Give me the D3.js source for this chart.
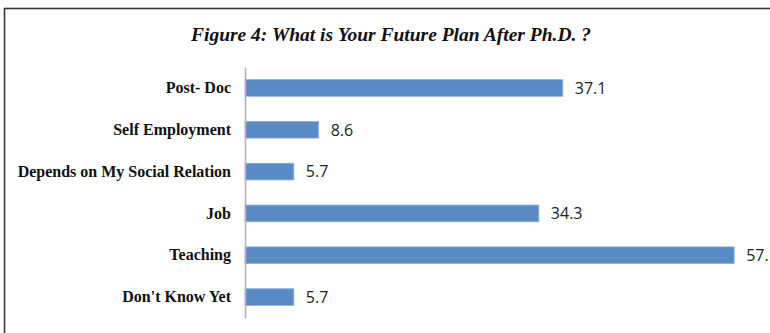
<!DOCTYPE html>
<html>
<head>
<meta charset="utf-8">
<script src="https://cdn.jsdelivr.net/npm/d3@7"></script>
<style>
  html, body { margin: 0; padding: 0; background: #fff; }
  svg { display: block; }
</style>
</head>
<body>
<div id="barchart"></div>
<script>
// chart data, top to bottom as shown
var categories = ["Post- Doc", "Self Employment", "Depends on My Social Relation", "Job", "Teaching", "Don't Know Yet"];
var values = [37.1, 8.6, 5.7, 34.3, 57.1, 5.7];
var valueLabels = ["37.1", "8.6", "5.7", "34.3", "57.1", "5.7"];
var title = "Figure 4: What is Your Future Plan After Ph.D. ?";

var drawBarchart = function(){

	//outer size of the svg element
	var outerWidth = 770;
	var outerHeight = 333;

	//plot area margins
	var margin = {top:67, right:36, bottom:15, left:245};

	var innerWidth = outerWidth - (margin.left + margin.right);
	var innerHeight = outerHeight - (margin.top + margin.bottom);

	var root = d3.select("body").select("#barchart")
	.append("svg")
	.attr("width", outerWidth)
	.attr("height", outerHeight);

	//frame round the figure, runs off the right and bottom of the picture
	root.append("rect")
		.attr("x", 4.5)
		.attr("y", 8.5)
		.attr("width", 800)
		.attr("height", 400)
		.attr("fill", "none")
		.attr("stroke", "#3a3a3a")
		.attr("stroke-width", 1.6);

	root.append("text")
		.attr("x", 391)
		.attr("y", 40.5)
		.attr("text-anchor", "middle")
		.style("font-family", "'Liberation Serif', 'Times New Roman', serif")
		.style("font-weight", "bold")
		.style("font-style", "italic")
		.style("font-size", "19.5px")
		.style("fill", "#111")
		.text(title);

	var svg = root.append("g")
	.attr("transform", "translate(" + margin.left + "," + margin.top + ")");

	//define scales
	var xScale = d3.scaleLinear()
		.domain([0, 60])
		.range([0, 514]);

	var yScale = d3.scaleBand()
		.domain(categories)
		.range([0, 251])
		.paddingInner(0.6)
		.paddingOuter(0.3);

	svg.selectAll(".bar")
		.data(values)
		.enter()
		.append("rect")
		.attr("class", "bar")
		.attr("x", 0)
		.attr("y", function(d,i){ return yScale(categories[i]); })
		.attr("width", function(d){ return xScale(d); })
		.attr("height", yScale.bandwidth())
		.attr("fill", "#5a8ac6")
		.attr("stroke", "#8fb1dc")
		.attr("stroke-width", 0.8);

	svg.selectAll(".value")
		.data(values)
		.enter()
		.append("text")
		.attr("class", "value")
		.attr("x", function(d){ return xScale(d) + 12; })
		.attr("y", function(d,i){ return yScale(categories[i]) + yScale.bandwidth()/2; })
		.attr("dy", "0.36em")
		.style("font-family", "'Open Sans', 'Liberation Sans', sans-serif")
		.style("font-size", "16px")
		.style("fill", "#222")
		.text(function(d,i){ return valueLabels[i]; });

	//category axis
	var yAxis = d3.axisLeft(yScale).tickSize(0).tickPadding(14);

	var axisG = svg.append("g")
		.attr("class", "y axis")
		.call(yAxis);

	axisG.select(".domain")
		.attr("stroke", "#b4b4b4")
		.attr("stroke-width", 1.6);

	axisG.selectAll("text")
		.style("font-family", "'Liberation Serif', 'Times New Roman', serif")
		.style("font-weight", "bold")
		.style("font-size", "16px")
		.style("fill", "#111");
};

drawBarchart();
</script>
</body>
</html>
